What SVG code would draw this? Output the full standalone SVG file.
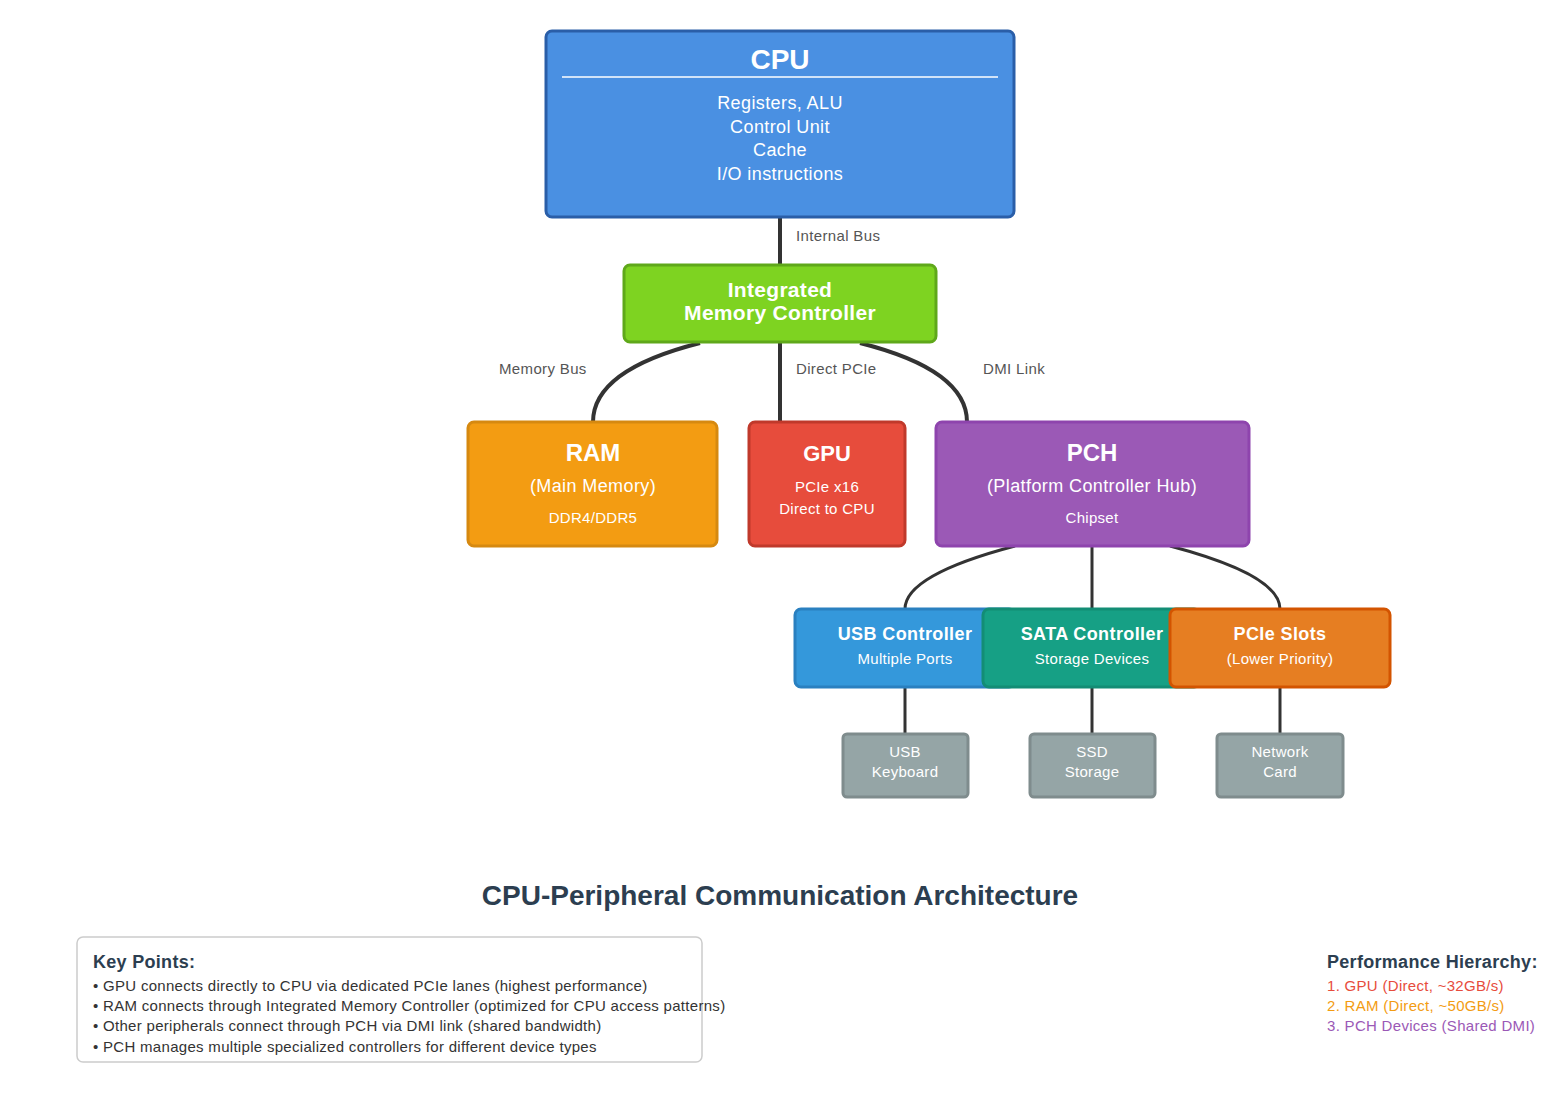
<svg xmlns="http://www.w3.org/2000/svg" width="1562" height="1094" viewBox="0 0 1562 1094">
<style>
text{font-family:"Liberation Sans",Arial,Helvetica,sans-serif;}
.w{fill:#fff;text-anchor:middle;}
.b{font-weight:bold;}
.s{font-size:15px;letter-spacing:0.3px;}
.m{font-size:18px;letter-spacing:0.4px;}
.lbl{font-size:15px;letter-spacing:0.35px;fill:#555;}
.thick{fill:none;stroke:#333;stroke-width:4;}
.thin{fill:none;stroke:#333;stroke-width:3;}
.box{stroke-width:3;}
</style>
<rect width="1562" height="1094" fill="#fff"/>
<g id="connectors">
<path class="thick" d="M780 217 V265"/>
<path class="thick" d="M700 343 Q593 370 593 422"/>
<path class="thick" d="M780 343 V422"/>
<path class="thick" d="M860 343 Q967 370 967 422"/>
<path class="thin" d="M1015 546 Q905 575 905 609"/>
<path class="thin" d="M1092 546 V609"/>
<path class="thin" d="M1170 546 Q1280 575 1280 609"/>
<path class="thin" d="M905 687 V734"/>
<path class="thin" d="M1092 687 V734"/>
<path class="thin" d="M1280 687 V734"/>
<text class="lbl" x="796" y="241">Internal Bus</text>
<text class="lbl" x="499" y="374">Memory Bus</text>
<text class="lbl" x="796" y="374">Direct PCIe</text>
<text class="lbl" x="983" y="374">DMI Link</text>
</g>
<g id="cpu">
<rect class="box" x="546" y="31" width="468" height="186" rx="6" fill="#4a90e2" stroke="#2a5ea8"/>
<line x1="562" y1="77" x2="998" y2="77" stroke="#fff" stroke-width="1.5"/>
<text class="w b" x="780" y="69" font-size="28">CPU</text>
<text class="w m" x="780" y="109">Registers, ALU</text>
<text class="w m" x="780" y="133">Control Unit</text>
<text class="w m" x="780" y="156">Cache</text>
<text class="w m" x="780" y="180">I/O instructions</text>
</g>
<g id="imc">
<rect class="box" x="624" y="265" width="312" height="77" rx="6" fill="#7ed321" stroke="#5fa81a"/>
<text class="w b" x="780" y="297" font-size="21" letter-spacing="0.3">Integrated</text>
<text class="w b" x="780" y="320" font-size="21" letter-spacing="0.3">Memory Controller</text>
</g>
<g id="ram">
<rect class="box" x="468" y="422" width="249" height="124" rx="6" fill="#f39c12" stroke="#d68910"/>
<text class="w b" x="593" y="461" font-size="24">RAM</text>
<text class="w m" x="593" y="492">(Main Memory)</text>
<text class="w s" x="593" y="523">DDR4/DDR5</text>
</g>
<g id="gpu">
<rect class="box" x="749" y="422" width="156" height="124" rx="6" fill="#e74c3c" stroke="#c0392b"/>
<text class="w b" x="827" y="461" font-size="22">GPU</text>
<text class="w s" x="827" y="492">PCIe x16</text>
<text class="w s" x="827" y="514">Direct to CPU</text>
</g>
<g id="pch">
<rect class="box" x="936" y="422" width="313" height="124" rx="6" fill="#9b59b6" stroke="#8e44ad"/>
<text class="w b" x="1092" y="461" font-size="24">PCH</text>
<text class="w m" x="1092" y="492">(Platform Controller Hub)</text>
<text class="w s" x="1092" y="523">Chipset</text>
</g>
<g id="usb-controller">
<rect class="box" x="795" y="609" width="220" height="78" rx="6" fill="#3498db" stroke="#2a80c0"/>
<text class="w b m" x="905" y="640">USB Controller</text>
<text class="w s" x="905" y="664">Multiple Ports</text>
</g>
<g id="sata-controller">
<rect class="box" x="983" y="609" width="217" height="78" rx="6" fill="#16a085" stroke="#138d75"/>
<text class="w b m" x="1092" y="640">SATA Controller</text>
<text class="w s" x="1092" y="664">Storage Devices</text>
</g>
<g id="pcie-slots">
<rect class="box" x="1170" y="609" width="220" height="78" rx="6" fill="#e67e22" stroke="#d35400"/>
<text class="w b m" x="1280" y="640">PCIe Slots</text>
<text class="w s" x="1280" y="664">(Lower Priority)</text>
</g>
<g id="usb-keyboard">
<rect class="box" x="843" y="734" width="125" height="63" rx="4" fill="#95a5a6" stroke="#7f8c8d"/>
<text class="w s" x="905" y="757">USB</text>
<text class="w s" x="905" y="777">Keyboard</text>
</g>
<g id="ssd-storage">
<rect class="box" x="1030" y="734" width="125" height="63" rx="4" fill="#95a5a6" stroke="#7f8c8d"/>
<text class="w s" x="1092" y="757">SSD</text>
<text class="w s" x="1092" y="777">Storage</text>
</g>
<g id="network-card">
<rect class="box" x="1217" y="734" width="126" height="63" rx="4" fill="#95a5a6" stroke="#7f8c8d"/>
<text class="w s" x="1280" y="757">Network</text>
<text class="w s" x="1280" y="777">Card</text>
</g>
<text x="780" y="905" font-size="28" font-weight="bold" fill="#2c3e50" text-anchor="middle">CPU-Peripheral Communication Architecture</text>
<g id="key-points">
<rect x="77" y="937" width="625" height="125" rx="6" fill="#fff" stroke="#ccc" stroke-width="1.5"/>
<text x="93" y="968" font-size="18" font-weight="bold" fill="#2c3e50" letter-spacing="0.3">Key Points:</text>
<text class="s" x="93" y="991" fill="#333">• GPU connects directly to CPU via dedicated PCIe lanes (highest performance)</text>
<text class="s" x="93" y="1011" fill="#333">• RAM connects through Integrated Memory Controller (optimized for CPU access patterns)</text>
<text class="s" x="93" y="1031" fill="#333">• Other peripherals connect through PCH via DMI link (shared bandwidth)</text>
<text class="s" x="93" y="1052" fill="#333">• PCH manages multiple specialized controllers for different device types</text>
</g>
<g id="performance">
<text x="1327" y="968" font-size="18" font-weight="bold" fill="#2c3e50" letter-spacing="0.3">Performance Hierarchy:</text>
<text class="s" x="1327" y="991" fill="#e74c3c">1. GPU (Direct, ~32GB/s)</text>
<text class="s" x="1327" y="1011" fill="#f39c12">2. RAM (Direct, ~50GB/s)</text>
<text class="s" x="1327" y="1031" fill="#9b59b6">3. PCH Devices (Shared DMI)</text>
</g>
</svg>
